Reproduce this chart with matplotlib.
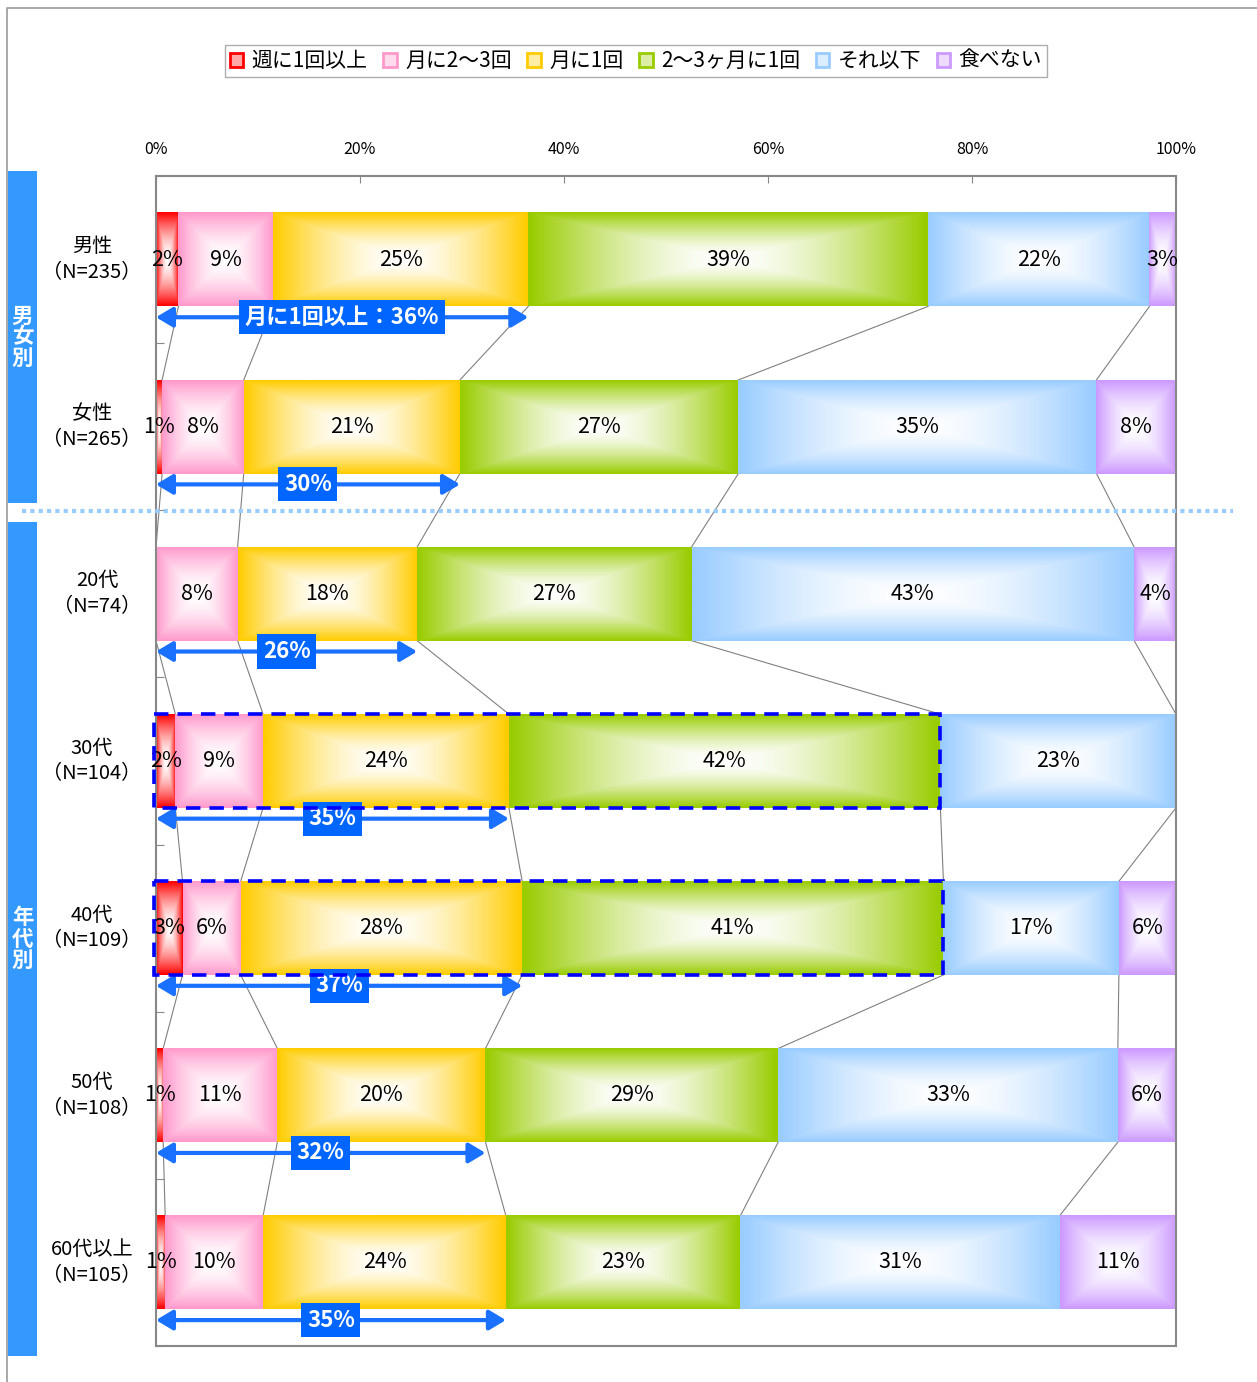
import numpy as np
import matplotlib.pyplot as plt
from matplotlib.patches import Rectangle
from matplotlib.lines import Line2D
from matplotlib.colors import to_rgb

plt.rcParams['font.family'] = ['Noto Sans CJK JP', 'DejaVu Sans']

categories = ['男性\n（N=235）', '女性\n（N=265）', '20代\n（N=74）', '30代\n（N=104）',
              '40代\n（N=109）', '50代\n（N=108）', '60代以上\n（N=105）']
series = ['週に1回以上', '月に2～3回', '月に1回', '2～3ヶ月に1回', 'それ以下', '食べない']
colors = ['#FF0000', '#FF99CC', '#FFCC00', '#99CC00', '#99CCFF', '#CC99FF']

# percent per category, one list per series
weekly = [2.2, 0.6, 0.0, 1.9, 2.6, 0.7, 0.9]
month_2_3 = [9.3, 8.0, 8.0, 8.6, 5.7, 11.2, 9.6]
month_1 = [25.0, 21.2, 17.6, 24.1, 27.6, 20.4, 23.8]
months_2_3 = [39.2, 27.3, 26.9, 42.3, 41.3, 28.7, 23.0]
less = [21.7, 35.1, 43.4, 23.1, 17.2, 33.3, 31.3]
never = [2.6, 7.8, 4.1, 0.0, 5.6, 5.7, 11.4]

once_a_month_labels = ['月に1回以上：36%', '30%', '26%', '35%', '37%', '32%', '35%']
highlighted = [3, 4]
x_ticks = [0, 20, 40, 60, 80, 100]

data = np.array([weekly, month_2_3, month_1, months_2_3, less, never])
cum = np.vstack([np.zeros(len(categories)), np.cumsum(data, axis=0)])

W, H = 1257, 1382
fig = plt.figure(figsize=(W / 100, H / 100), dpi=100)
ax = fig.add_axes([156 / W, 1 - 1346 / H, 1020 / W, 1170 / H])

bar_h = 0.56


def gradient(color, n=80):
    u = np.abs(np.linspace(-1, 1, n))
    d = np.maximum(u[None, :], u[:, None]) ** 1.6
    c = np.array(to_rgb(color))
    return (1 - d[..., None]) * np.ones(3) + d[..., None] * c


ys = np.arange(len(categories))
for s, color in enumerate(colors):
    img = gradient(color)
    for i in ys:
        v = data[s, i]
        if v <= 0:
            continue
        left, right = cum[s, i], cum[s + 1, i]
        ax.imshow(img, extent=(left, right, i + bar_h / 2, i - bar_h / 2),
                  aspect='auto', interpolation='bilinear', zorder=2)
        ax.text((left + right) / 2, i, f'{round(v)}%', ha='center', va='center',
                fontsize=15.5, zorder=5)

# series lines between bars
for k in range(1, len(colors)):
    for i in ys[:-1]:
        ax.plot([cum[k, i], cum[k, i + 1]], [i + bar_h / 2, i + 1 - bar_h / 2],
                color='#808080', lw=0.8, zorder=1)

# "once a month or more" arrows
for i in ys:
    ya = i + 0.345
    end = cum[3, i]
    ax.annotate('', xy=(0, ya), xytext=(end, ya),
                arrowprops=dict(arrowstyle='<|-|>,head_length=0.5,head_width=0.3',
                                color='#1A70FF', lw=3, mutation_scale=20,
                                shrinkA=0, shrinkB=0), zorder=6)
    ax.text(end / 2, ya, once_a_month_labels[i], ha='center', va='center',
            fontsize=16, fontweight='bold', color='white', zorder=7,
            bbox=dict(boxstyle='square,pad=0.25', fc='#0066FF', ec='none'))

for i in highlighted:
    ax.add_patch(Rectangle((-0.2, i - bar_h / 2), cum[4, i] + 0.2, bar_h, fill=False,
                           ec='#0000FF', lw=2.6, ls=(0, (4, 2.5)), zorder=8,
                           clip_on=False))

for i, cat in enumerate(categories):
    ax.text(-1.4, i, cat, ha='right', va='center', multialignment='center',
            fontsize=14.5, linespacing=1.3)

ax.set_xlim(0, 100)
ax.set_ylim(len(categories) - 0.5, -0.5)
ax.xaxis.tick_top()
ax.set_xticks(x_ticks)
ax.set_xticklabels([f'{t}%' for t in x_ticks], fontsize=11.5)
ax.tick_params(axis='x', direction='in', length=5, color='#888888', pad=13)
ax.set_yticks(np.arange(-0.5, len(categories)))
ax.set_yticklabels([])
ax.tick_params(axis='y', direction='in', length=6, color='#888888')
for sp in ax.spines.values():
    sp.set_color('#888888')
    sp.set_linewidth(1.5)

# side group bands
for y0, y1, txt in [(171, 503, '男\n女\n別'), (522, 1356, '年\n代\n別')]:
    fig.patches.append(Rectangle((8 / W, 1 - y1 / H), 29 / W, (y1 - y0) / H,
                                 transform=fig.transFigure, fc='#3399FF', ec='none'))
    fig.text(22.5 / W, 1 - (y0 + y1) / 2 / H, txt, ha='center', va='center',
             color='white', fontsize=15.5, fontweight='bold', linespacing=1.0)

fig.lines.append(Line2D([22 / W, 1233 / W], [1 - 511 / H, 1 - 511 / H],
                        transform=fig.transFigure, color='#99CCFF', lw=3,
                        dashes=(1, 1)))
fig.lines.append(Line2D([7 / W, 7 / W, 1], [0, 1 - 8 / H, 1 - 8 / H],
                        transform=fig.transFigure, color='#999999', lw=1.2))

handles = [Rectangle((0, 0), 1, 1, fc=tuple(0.35 * np.array(to_rgb(c)) + 0.65), ec=c, lw=2)
           for c in colors]
leg = fig.legend(handles, series, loc='center', bbox_to_anchor=(636 / W, 1 - 61 / H),
                 ncol=6, fontsize=15, frameon=True, fancybox=False, handlelength=0.65,
                 handleheight=0.65, handletextpad=0.4, columnspacing=0.75,
                 borderpad=0.25, borderaxespad=0)
leg.get_frame().set_edgecolor('#999999')
leg.get_frame().set_linewidth(1)

fig.savefig('out.png', dpi=100)
